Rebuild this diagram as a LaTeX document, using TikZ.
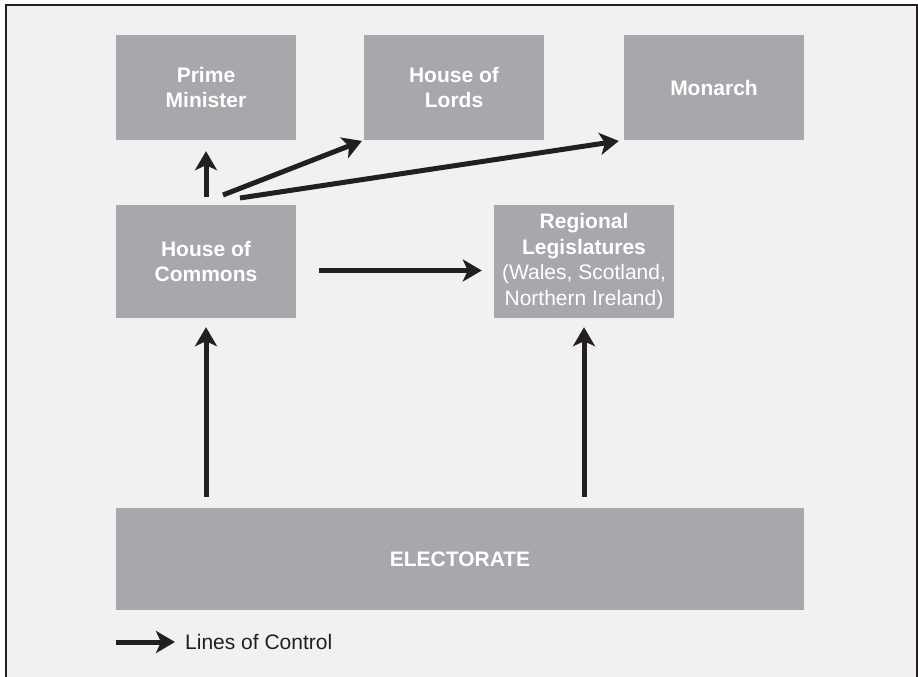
\documentclass[tikz,border=0pt]{standalone}
\usepackage{fontspec}
\setmainfont{Liberation Sans}
\usetikzlibrary{arrows.meta}
\definecolor{panel}{HTML}{F1F1F1}
\definecolor{boxgray}{HTML}{A7A8AB}
\definecolor{ink}{HTML}{231F20}
\tikzset{
  govbox/.style={fill=boxgray, draw=none, text=white, align=center,
    inner sep=0pt, minimum width=180pt, font=\fontsize{21}{25.5}\selectfont},
  ctl/.style={draw=ink, line width=5pt,
    -{Stealth[length=19pt, width=22pt, inset=5pt]}},
  legendtext/.style={text=ink, anchor=west, inner sep=0pt,
    font=\fontsize{21}{25.5}\selectfont}
}
\begin{document}
\begin{tikzpicture}[x=1pt, y=-1pt]
  \useasboundingbox (0,0) rectangle (918,677);
  \fill[white] (0,0) rectangle (918,677);
  \begin{scope}
    \clip (0,0) rectangle (918,677);
    \draw[fill=panel, draw=ink, line width=2pt] (6,5) rectangle (917,700);
  \end{scope}

  % top row
  \node[govbox, minimum height=105pt] (pm) at (206,87.5) {\textbf{Prime}\\\textbf{Minister}};
  \node[govbox, minimum height=105pt] (lords) at (454,87.5) {\textbf{House of}\\\textbf{Lords}};
  \node[govbox, minimum height=105pt] (mon) at (714,87.5) {\textbf{Monarch}};

  % middle row
  \node[govbox, minimum height=113pt] (hoc) at (206,261.5) {\textbf{House of}\\\textbf{Commons}};
  \node[govbox, minimum height=113pt] (reg) at (584,261.5)
    {\textbf{Regional}\\\textbf{Legislatures}\\(Wales, Scotland,\\Northern Ireland)};

  % electorate
  \node[govbox, minimum width=688pt, minimum height=102pt] (elec) at (460,559) {\textbf{ELECTORATE}};

  % tails of the lines leaving the Commons upwards
  \coordinate (pmtail) at (206,197);
  \coordinate (lordstail) at (223,195);
  \coordinate (montail) at (240,198);

  % lines of control
  \draw[ctl, shorten >=11pt] (pmtail) -- (pm.south);
  \draw[ctl, shorten >=2pt] (lordstail) -- (lords.south west);
  \draw[ctl, shorten >=5pt] (montail) -- (mon.south west);
  \draw[ctl] ([xshift=23pt,yshift=-9pt]hoc.east) -- ([xshift=-12pt,yshift=-9pt]reg.west);
  \draw[ctl, shorten <=11pt, shorten >=9pt] (elec.north -| hoc.south) -- (hoc.south);
  \draw[ctl, shorten <=11pt, shorten >=9pt] (elec.north -| reg.south) -- (reg.south);

  % legend
  \coordinate (legtail) at (116,642);
  \node[legendtext] (legtext) at (185,642) {Lines of Control};
  \draw[ctl, shorten >=10pt] (legtail) -- (legtext.west);
\end{tikzpicture}
\end{document}
